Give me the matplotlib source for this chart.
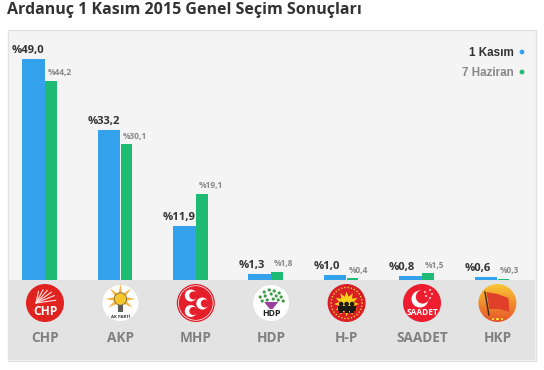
import matplotlib
matplotlib.use('Agg')
import matplotlib.pyplot as plt
import numpy as np
from matplotlib.patches import Circle, Rectangle, Polygon

W, H = 544, 370

parties = ['CHP', 'AKP', 'MHP', 'HDP', 'H-P', 'SAADET', 'HKP']
kasim = [49.0, 33.2, 11.9, 1.3, 1.0, 0.8, 0.6]
haziran = [44.2, 30.1, 19.1, 1.8, 0.4, 1.5, 0.3]
title = 'Ardanuç 1 Kasım 2015 Genel Seçim Sonuçları'
legend_labels = ['1 Kasım', '7 Haziran']

BLUE = '#34a1ec'
GREEN = '#1dbb74'
DARK = '#333333'
GREY = '#888888'


def pct(v):
    return '%' + f'{v:.1f}'.replace('.', ',')


def star(ax, x, y, r, color, n=5):
    ang = np.pi / 2 + np.arange(2 * n) * np.pi / n
    rad = np.where(np.arange(2 * n) % 2 == 0, r, r * 0.42)
    ax.add_patch(Polygon(np.c_[x + rad * np.cos(ang), y - rad * np.sin(ang)], color=color, lw=0))


def crescent(ax, x, y, r, color, bg, dx, dy=0, k=0.72):
    ax.add_patch(Circle((x, y), r, color=color, lw=0))
    ax.add_patch(Circle((x + dx, y + dy), r * k, color=bg, lw=0))


def spike(ax, x, y, deg, length, base, color):
    t = np.radians(deg)
    ax.add_patch(Polygon([[x + length * np.cos(t), y - length * np.sin(t)],
                          [x + base * np.cos(t + 0.45), y - base * np.sin(t + 0.45)],
                          [x + base * np.cos(t - 0.45), y - base * np.sin(t - 0.45)]],
                         color=color, lw=0))


def logo_chp(ax, x, y):
    ax.add_patch(Circle((x, y), 19, color='#e0231f', lw=0))
    # six arrows fanning out from the lower left
    for a, r in zip([-78, -62, -48, -35, -22, -8], [12, 15, 17, 19, 20, 20]):
        t = np.radians(a)
        ax.plot([x - 9, x - 9 + r * np.cos(t)], [y, y + r * np.sin(t)],
                color='#fbe3e0', lw=0.8, solid_capstyle='round')
    ax.text(x, y + 8.5, 'CHP', color='white', fontsize=8.6, fontweight='bold', ha='center',
            va='center', family='Open Sans')


def logo_akp(ax, x, y):
    ax.add_patch(Circle((x, y), 18, color='white', lw=0))
    for a in (-35, 0, 45, 90, 135, 180, 215):
        spike(ax, x, y - 4, a, 15, 5, '#f5b947')
    ax.add_patch(Circle((x, y - 4), 6.2, facecolor='#f7c52e', edgecolor='#7d6c3c', lw=0.6))
    ax.add_patch(Rectangle((x - 2.8, y + 2), 5.6, 7, color='#5b5b58', lw=0))
    ax.text(x, y + 13.5, 'AK PARTİ', color='#333333', fontsize=3.2, fontweight='bold',
            ha='center', va='center', family='Open Sans')


def logo_mhp(ax, x, y):
    ax.add_patch(Circle((x, y), 19, color='#e41e2b', lw=0))
    ax.add_patch(Circle((x, y), 17.3, facecolor='none', edgecolor='white', lw=0.5))
    for dx, dy in [(-5, -7.5), (-5, 8), (6.5, 0.5)]:
        crescent(ax, x + dx, y + dy, 6, 'white', '#e41e2b', 2.6, k=0.68)


def logo_hdp(ax, x, y):
    ax.add_patch(Circle((x, y), 18, color='white', lw=0))
    leaves = [(-7, -11), (-2, -13), (3, -12), (8, -10), (-11, -6), (-6, -7), (0, -9), (5, -7),
              (10, -6), (-9, -2), (-4, -3), (2, -4), (7, -3), (12, -2)]
    for dx, dy in leaves:
        ax.add_patch(Circle((x + dx, y + dy), 1.6, color='#3f9a46', lw=0))
    ax.add_patch(Polygon([[x - 7, y - 1], [x + 7, y - 1], [x + 1.5, y + 6], [x - 1.5, y + 6]],
                         color='#9a3f9c', lw=0))
    ax.text(x, y + 11, 'HDP', color='#222222', fontsize=6.3, fontweight='bold', ha='center',
            va='center', family='Open Sans')


def logo_hp(ax, x, y):
    ax.add_patch(Circle((x, y), 19, color='#d81f26', lw=0))
    for i in range(30):
        a = np.radians(i * 12)
        ax.add_patch(Circle((x + 15.5 * np.cos(a), y + 15.5 * np.sin(a)), 0.8,
                            color='#f0c83a', lw=0))
    for a in np.arange(0, 360, 30):
        spike(ax, x, y + 1, a, 12.5, 6, '#f7d117')
    ax.add_patch(Circle((x, y + 1), 7.5, color='#f7d117', lw=0))
    ax.add_patch(Rectangle((x - 9, y + 3), 18, 5, color='#1e1a16', lw=0))
    for dx in (-5.5, 0, 5.5):
        ax.add_patch(Circle((x + dx, y + 1), 2.3, color='#1e1a16', lw=0))
        ax.add_patch(Rectangle((x + dx - 2, y + 7), 4, 2.5, color='#1e1a16', lw=0))


def logo_saadet(ax, x, y):
    ax.add_patch(Circle((x, y), 19, color='#ed1c2e', lw=0))
    crescent(ax, x - 2, y - 4, 8.5, 'white', '#ed1c2e', 2.6, -2.2, k=0.8)
    for dx, dy in [(3, -11), (8, -13), (4, -7), (10, -9), (8, -5)]:
        star(ax, x + dx, y + dy, 1.5, 'white')
    ax.text(x, y + 9.5, 'SAADET', color='white', fontsize=6, fontweight='bold', ha='center',
            va='center', family='Open Sans')


def logo_hkp(ax, x, y):
    grad = np.linspace(0, 1, 64).reshape(-1, 1)
    cols = np.array([0.98, 0.78, 0.2]) * (1 - grad) + np.array([0.9, 0.33, 0.16]) * grad
    im = ax.imshow(cols[:, None, :], extent=(x - 19, x + 19, y + 19, y - 19), aspect='auto', zorder=2)
    clip = Circle((x, y), 19, transform=ax.transData)
    im.set_clip_path(clip)
    ax.add_patch(Polygon([[x - 11, y - 11], [x, y - 9], [x + 11, y - 5], [x + 12, y + 9],
                          [x + 2, y + 6], [x - 8, y + 6]], color='#e04029', lw=0, zorder=3))
    ax.plot([x - 12.5, x - 8.5], [y - 11, y + 12], color='#3a2a1a', lw=1, zorder=3)
    star(ax, x - 5.5, y - 6, 2.2, '#f7d23a')
    for dx in (-4.5, 0, 4.5):
        ax.add_patch(Rectangle((x + dx - 1.4, y + 14.5), 2.8, 2.8, color='#f7d23a', lw=0, zorder=3))
    ax.set_xlim(0, W)
    ax.set_ylim(H, 0)


logos = [logo_chp, logo_akp, logo_mhp, logo_hdp, logo_hp, logo_saadet, logo_hkp]

fig = plt.figure(figsize=(W / 100, H / 100), dpi=100, facecolor='white')

# pixel canvas for panel, logos and text
bg = fig.add_axes([0, 0, 1, 1])
bg.set_xlim(0, W)
bg.set_ylim(H, 0)
bg.axis('off')
bg.add_patch(Rectangle((7.5, 29.5), 528, 331, facecolor='#f4f4f4', edgecolor='#e2e2e2', lw=1))
bg.add_patch(Rectangle((8, 280), 527, 80, facecolor='#e3e3e3', lw=0))

bg.text(7, 10, title, fontsize=11.55, fontweight='bold', color=DARK, family='Open Sans',
        ha='left', va='center')

# bar axes: same pixel width as figure, baseline at y=280
ax = fig.add_axes([0, (H - 280) / H, 1, 230 / H])
ax.patch.set_alpha(0)
ax.axis('off')
ax.set_ylim(0, 230 / 4.51)
x = 45 + np.arange(len(parties)) * 75.4
ax.set_xlim(0, W)
ax.bar(x - 11.5, kasim, width=22.5, color=BLUE, lw=0)
ax.bar(x + 6, haziran, width=11.5, color=GREEN, lw=0)

for i, px in enumerate(x):
    ax.annotate(pct(kasim[i]), (px - 33, kasim[i]), xytext=(0, 2.4), textcoords='offset points',
                ha='left', va='bottom', fontsize=8.1, fontweight='bold', color=DARK,
                family='Open Sans')
    ax.annotate(pct(haziran[i]), (px + 2.5, haziran[i]), xytext=(0, 2.6), textcoords='offset points',
                ha='left', va='bottom', fontsize=6, fontweight='bold', color=GREY,
                family='Open Sans')
    logos[i](bg, px, 303)
    bg.text(px, 338.5, parties[i], fontsize=9.8, fontweight='bold', color='#808080',
            family='Open Sans', ha='center', va='center')

# legend
bg.text(513.5, 52.5, legend_labels[0], fontsize=8.4, fontweight='bold', color=DARK,
        family='Liberation Sans', ha='right', va='center')
bg.text(513.5, 72.5, legend_labels[1], fontsize=8.4, fontweight='bold', color=GREY,
        family='Liberation Sans', ha='right', va='center')
bg.add_patch(Circle((522, 52), 2.4, color=BLUE, lw=0))
bg.add_patch(Circle((522, 72), 2.4, color=GREEN, lw=0))

plt.savefig('out.png', dpi=100)
